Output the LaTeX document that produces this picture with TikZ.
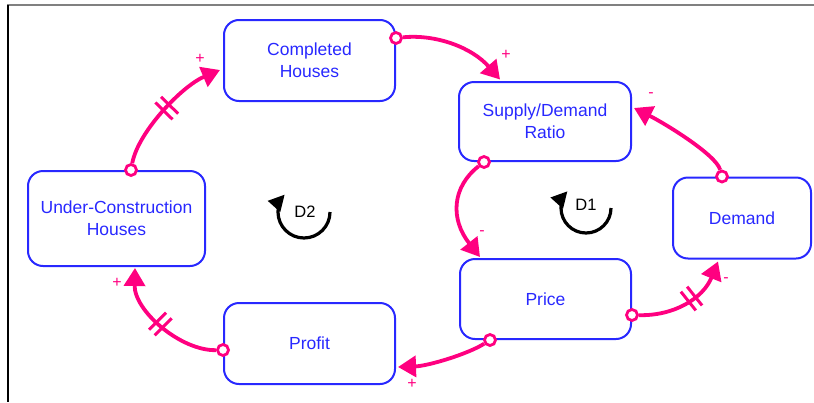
\documentclass[tikz,border=0pt]{standalone}
\usepackage{fontspec}
\setmainfont{Liberation Sans}
\usetikzlibrary{arrows.meta,calc,decorations.markings}
\definecolor{boxblue}{RGB}{40,40,255}
\definecolor{linkpink}{RGB}{255,0,128}
\definecolor{framegray}{RGB}{128,128,128}

\begin{document}
\begin{tikzpicture}[x=1pt,y=-1pt,
  box/.style={draw=boxblue, line width=2pt, rounded corners=15pt, text=boxblue,
    align=center, font=\fontsize{17.5}{21.7}\selectfont, inner sep=0pt},
  link/.style={draw=linkpink, line width=3.8pt, -{Triangle[length=18pt,width=21pt]}},
  src/.style={circle, draw=linkpink, fill=white, line width=2.8pt,
    minimum size=11pt, inner sep=0pt},
  pol/.style={text=linkpink, font=\fontsize{16}{16}\selectfont, inner sep=0pt},
  delay/.style={postaction={decorate, decoration={markings,
    mark=at position #1 with {\draw[-, linkpink, line width=3pt]
      (-4pt,-12pt) -- (-4pt,12pt) (4pt,-12pt) -- (4pt,12pt);}}}},
  looparrow/.style={draw=black, line width=3.2pt, -{Triangle[length=16pt,width=16pt]}},
  looplabel/.style={font=\fontsize{16.5}{16.5}\selectfont, inner sep=0pt}
]
\useasboundingbox (0,0) rectangle (814,402);

% window frame
\draw[framegray, line width=2.2pt] (7,5) -- (814,5);
\draw[black, line width=2.2pt] (8,5) -- (8,402);

% stocks and variables
\node[box, minimum width=171pt, minimum height=81pt] (comp) at (309.5,60.5) {Completed\\Houses};
\node[box, minimum width=172pt, minimum height=79pt] (sdr) at (545,121.5) {Supply/Demand\\Ratio};
\node[box, minimum width=177pt, minimum height=95pt] (uc) at (116.5,218.5) {Under-Construction\\Houses};
\node[box, minimum width=138pt, minimum height=81pt] (dem) at (742,218) {Demand};
\node[box, minimum width=171pt, minimum height=80pt] (price) at (545.5,299) {Price};
\node[box, minimum width=171pt, minimum height=81pt] (profit) at (309.5,343.5) {Profit};

% link sources
\node[src] (s1) at ($(comp.north east)+(0,19)$) {};
\node[src] (s2) at ($(sdr.south west)+(26,0)$) {};
\node[src] (s3) at ($(price.east)+(0,16)$) {};
\node[src] (s4) at ($(dem.north)+(-20,0)$) {};
\node[src] (s5) at ($(price.south west)+(31,0)$) {};
\node[src] (s6) at ($(profit.west)+(0,6.5)$) {};
\node[src] (s7) at ($(uc.north)+(14.5,0)$) {};

% link targets
\coordinate (t1) at ($(sdr.north)+(-45,-1.5)$);
\coordinate (t2) at ($(price.north west)+(21,-1)$);
\coordinate (t3) at ($(dem.south)+(-24,2)$);
\coordinate (t4) at ($(sdr.east)+(2,-13.5)$);
\coordinate (t5) at ($(profit.east)+(2,23.5)$);
\coordinate (t6) at ($(uc.south)+(18.5,1)$);
\coordinate (t7) at ($(comp.west)+(-3,9.5)$);

% causal links
\draw[link] (s1) .. controls +(40,-4) and +(-28,-32) .. (t1);
\draw[link] (s2) .. controls +(-32,25) and +(-30,-38) .. (t2);
\draw[link, delay=0.55] (s3) .. controls +(42,1) and +(-15,37) .. (t3);
\draw[link] (s4) .. controls +(-6,-22) and +(30,15) .. (t4);
\draw[link] (s5) .. controls +(-22,14) and +(30,-1) .. (t5);
\draw[link, delay=0.5] (s6) .. controls +(-42,1) and +(-1,43) .. (t6);
\draw[link, delay=0.5] (s7) .. controls +(7,-38) and +(-38,16) .. (t7);

% polarities
\node[pol] (p1) at (506,55) {+};
\node[pol] (p2) at (482,233) {-};
\node[pol] (p3) at (726,280) {-};
\node[pol] (p4) at (651,95) {-};
\node[pol] (p5) at (412,384) {+};
\node[pol] (p6) at (117,283) {+};
\node[pol] (p7) at (200,59) {+};

% loop identifiers
\coordinate (c1) at (586,208);
\coordinate (c2) at (304,212);
\node[looplabel] (d1) at (586,205) {D1};
\node[looplabel] (d2) at (305,212) {D2};
\draw[looparrow] ($(c1)+(25,0)$) arc[start angle=0, end angle=-222, radius=25pt];
\draw[looparrow] ($(c2)+(26,0)$) arc[start angle=0, end angle=-222, radius=26pt];
\end{tikzpicture}
\end{document}
